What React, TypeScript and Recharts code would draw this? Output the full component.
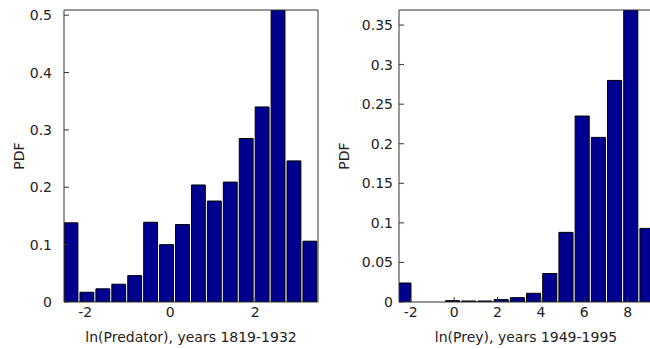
import React from 'react';
import { BarChart, Bar, XAxis, YAxis } from 'recharts';

// bin centres and PDF values
const predatorBins = [-2.335, -1.96, -1.585, -1.21, -0.835, -0.46, -0.085, 0.29, 0.665, 1.04, 1.415, 1.79, 2.165, 2.54, 2.915, 3.29];
const predatorPdf = [0.138, 0.017, 0.023, 0.031, 0.046, 0.139, 0.1, 0.135, 0.204, 0.176, 0.209, 0.285, 0.34, 0.509, 0.246, 0.106];
const predatorXTicks = [-2, 0, 2];
const predatorYTicks = [0, 0.1, 0.2, 0.3, 0.4, 0.5];

const preyBins = [-2.31, -1.563, -0.816, -0.069, 0.678, 1.425, 2.172, 2.919, 3.666, 4.413, 5.16, 5.907, 6.654, 7.401, 8.148, 8.895];
const preyPdf = [0.024, 0, 0, 0.0017, 0.0013, 0.0013, 0.003, 0.0055, 0.011, 0.036, 0.088, 0.235, 0.208, 0.28, 0.369, 0.093];
const preyXTicks = [-2, 0, 2, 4, 6, 8];
const preyYTicks = [0, 0.05, 0.1, 0.15, 0.2, 0.25, 0.3, 0.35];

const FONT = 'DejaVu Sans, sans-serif';
const TEXT = '#222';
const AXIS = '#333';

interface PanelProps {
  bins: number[];
  pdf: number[];
  xDomain: [number, number];
  yMax: number;
  xTicks: number[];
  yTicks: number[];
  xLabel: string;
  width: number;
  yAxisWidth: number;
  yTickMargin: number;
}

function Panel({ bins, pdf, xDomain, yMax, xTicks, yTicks, xLabel, width, yAxisWidth, yTickMargin }: PanelProps) {
  const data = bins.map((x, i) => ({ x, pdf: pdf[i] }));
  const plotWidth = width - yAxisWidth - 12;
  const binPx = (plotWidth * (bins[1] - bins[0])) / (xDomain[1] - xDomain[0]);
  const tickStyle = { fill: TEXT, fontSize: 14, fontFamily: FONT };

  return (
    <BarChart width={width} height={349} data={data} margin={{ top: 9, right: 11, bottom: 0, left: 0 }}>
      <XAxis
        dataKey="x"
        type="number"
        domain={xDomain}
        ticks={xTicks}
        interval={0}
        allowDataOverflow
        height={47}
        tickSize={-5}
        tickMargin={10}
        tick={tickStyle}
        stroke={AXIS}
        label={{ value: xLabel, position: 'insideBottom', offset: 7, fill: TEXT, fontSize: 14, fontFamily: FONT }}
      />
      <XAxis
        xAxisId="top"
        orientation="top"
        dataKey="x"
        type="number"
        domain={xDomain}
        ticks={xTicks}
        interval={0}
        allowDataOverflow
        height={1}
        tickSize={-5}
        tick={false}
        stroke={AXIS}
      />
      <YAxis
        type="number"
        domain={[0, yMax]}
        ticks={yTicks}
        interval={0}
        allowDataOverflow
        width={yAxisWidth}
        tickSize={-5}
        tickMargin={yTickMargin}
        tick={tickStyle}
        stroke={AXIS}
        label={{ value: 'PDF', angle: -90, position: 'insideLeft', offset: 19, fill: TEXT, fontSize: 14, fontFamily: FONT, style: { textAnchor: 'middle' } }}
      />
      <YAxis
        yAxisId="right"
        orientation="right"
        type="number"
        domain={[0, yMax]}
        ticks={yTicks}
        interval={0}
        allowDataOverflow
        width={1}
        tickSize={-5}
        tick={false}
        stroke={AXIS}
      />
      <Bar dataKey="pdf" fill="#000090" stroke="#000000" strokeWidth={1} barSize={binPx * 0.87} isAnimationActive={false} />
    </BarChart>
  );
}

export default function App() {
  return (
    <div style={{ position: 'absolute', left: 0, top: 0, width: 650, height: 349, overflow: 'hidden', background: '#fff', fontFamily: FONT }}>
      <div style={{ position: 'absolute', left: 0, top: 0 }}>
        <Panel
          bins={predatorBins}
          pdf={predatorPdf}
          xDomain={[-2.5, 3.48]}
          yMax={0.509}
          xTicks={predatorXTicks}
          yTicks={predatorYTicks}
          xLabel="ln(Predator), years 1819-1932"
          width={330}
          yAxisWidth={64}
          yTickMargin={17}
        />
      </div>
      <div style={{ position: 'absolute', left: 325, top: 0 }}>
        <Panel
          bins={preyBins}
          pdf={preyPdf}
          xDomain={[-2.54, 9.17]}
          yMax={0.369}
          xTicks={preyXTicks}
          yTicks={preyYTicks}
          xLabel="ln(Prey), years 1949-1995"
          width={340}
          yAxisWidth={74}
          yTickMargin={11}
        />
      </div>
    </div>
  );
}
